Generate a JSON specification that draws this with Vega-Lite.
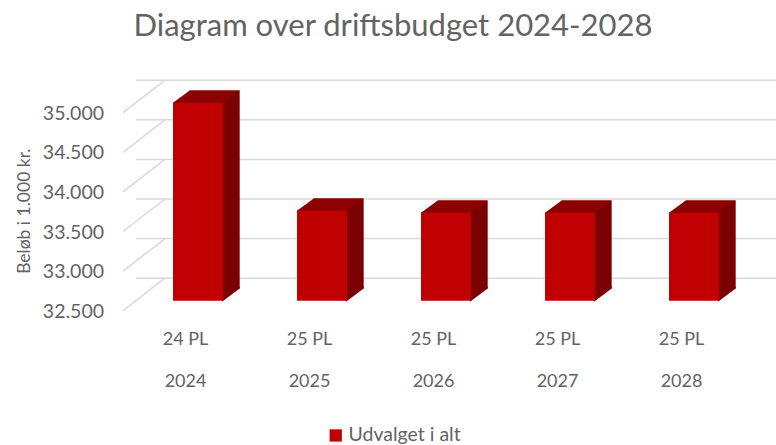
{
"$schema":"https://vega.github.io/schema/vega-lite/v6.json",
"width":620,"height":198,
"autosize":"none",
"padding":{"left":136,"top":102.7,"right":20,"bottom":144.3},
"background":"white",
"config":{"view":{"stroke":null},"font":"Lato"},
"title":{"text":"Diagram over driftsbudget 2024-2028","font":"Lato","fontSize":31,"fontWeight":"normal","color":"#636363","anchor":"middle","dx":-53,"offset":36},
"datasets":{
"bars":[
{"cat":"24 PL|2024","amount":35000,"series":"Udvalget i alt"},
{"cat":"25 PL|2025","amount":33636,"series":"Udvalget i alt"},
{"cat":"25 PL|2026","amount":33611,"series":"Udvalget i alt"},
{"cat":"25 PL|2027","amount":33611,"series":"Udvalget i alt"},
{"cat":"25 PL|2028","amount":33611,"series":"Udvalget i alt"}],
"ticks":[{"v":32500,"label":"32.500"},{"v":33000,"label":"33.000"},{"v":33500,"label":"33.500"},{"v":34000,"label":"34.000"},{"v":34500,"label":"34.500"},{"v":35000,"label":"35.000"}]
},
"layer":[
{"data":{"name":"ticks"},
 "mark":{"type":"rule","color":"#D9D9D9","strokeWidth":1.5,"xOffset":29,"x2Offset":20,"yOffset":-22.5},
 "encoding":{"y":{"field":"v","type":"quantitative","scale":{"domain":[32500,35000],"nice":false,"zero":false},
   "axis":{"labels":false,"title":"Beløb i 1.000 kr.","titleFont":"Lato","titleFontSize":17.5,"titleFontWeight":"normal","titleColor":"#636363","titleX":-103,"titleY":108,"grid":false,"domain":false,"ticks":false}}}},
{"data":{"name":"ticks"},
 "mark":{"type":"rule","color":"#D9D9D9","strokeWidth":1.5,"xOffset":-13,"x2Offset":29,"yOffset":10,"y2Offset":-22.5},
 "encoding":{"y":{"field":"v","type":"quantitative"},"y2":{"field":"v"},"x":{"value":0},"x2":{"value":0}}},
{"data":{"name":"ticks"},
 "mark":{"type":"text","align":"right","baseline":"middle","dx":-32,"dy":11,"font":"Lato","fontSize":19.5,"color":"#636363"},
 "encoding":{"y":{"field":"v","type":"quantitative"},"x":{"value":0},"text":{"field":"label"}}},
{"data":{"name":"bars"},
 "mark":{"type":"bar","color":"#7B0000","xOffset":16.7,"yOffset":-12.3,"y2Offset":-12.3},
 "encoding":{
  "x":{"field":"cat","type":"nominal","sort":null,"scale":{"paddingInner":0.597,"paddingOuter":0.2985},
   "axis":{"title":null,"domain":false,"ticks":false,"labelAngle":0,"labelAlign":"center","labelBaseline":"top","labelExpr":"split(datum.label,'|')","labelLineHeight":42,"labelPadding":30,"labelOffset":-12.5,"labelFont":"Lato","labelFontSize":18,"labelColor":"#636363"}},
  "y":{"field":"amount","type":"quantitative","stack":null},
  "y2":{"datum":32500}}},
{"data":{"name":"bars"},
 "mark":{"type":"point","filled":true,"opacity":1,"size":4,"strokeWidth":0,"color":"#7B0000","shape":"M24,1L41.7,-12.3L41.7,-14L24,-14Z"},
 "encoding":{
  "x":{"field":"cat","type":"nominal","sort":null},
  "y":{"datum":32500}}},
{"data":{"name":"bars"},
 "mark":{"type":"point","filled":true,"opacity":1,"size":4,"strokeWidth":0,"color":"#8B0000","shape":"M-25,1L25,1L25,0L41.7,-12.3L-8.3,-12.3L-25,0Z"},
 "encoding":{
  "x":{"field":"cat","type":"nominal","sort":null},
  "y":{"field":"amount","type":"quantitative"}}},
{"data":{"name":"bars"},
 "mark":{"type":"bar"},
 "encoding":{
  "x":{"field":"cat","type":"nominal","sort":null},
  "y":{"field":"amount","type":"quantitative","stack":null},
  "y2":{"datum":32500},
  "color":{"field":"series","type":"nominal","scale":{"domain":["Udvalget i alt"],"range":["#C00000"]},
   "legend":{"title":null,"orient":"none","legendX":190,"legendY":323,"symbolType":"square","symbolSize":150,"symbolStrokeWidth":0,"labelFont":"Lato","labelFontSize":19.5,"labelColor":"#636363","labelOffset":3}}}}
]
}
